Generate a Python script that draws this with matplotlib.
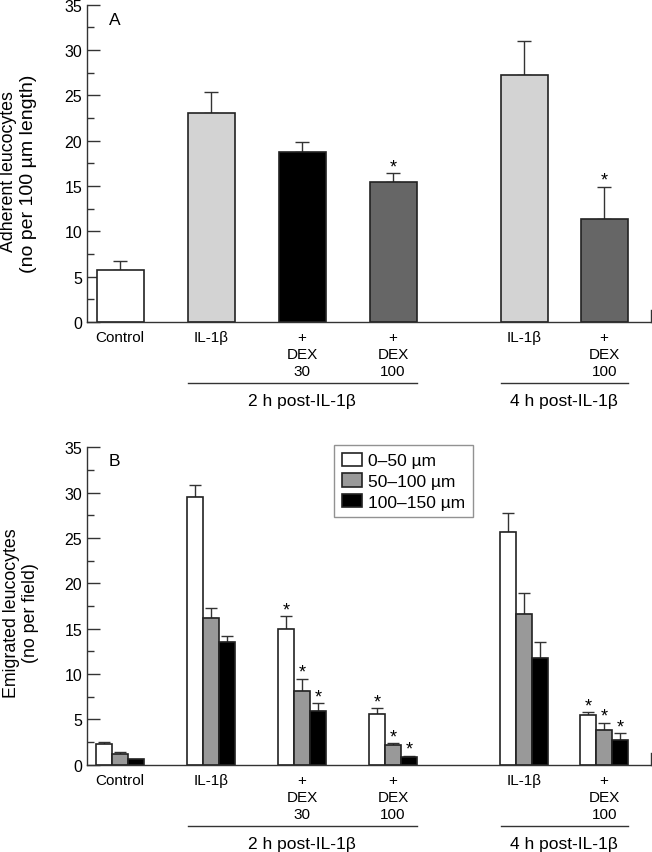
import matplotlib
matplotlib.use("Agg")
import matplotlib.pyplot as plt
import matplotlib.transforms as mtransforms
import numpy as np

plt.rcParams['font.family'] = ['Liberation Sans', 'DejaVu Sans']

# ---------------- data ----------------
tick_labels = ["Control", "IL-1β", "+\nDEX\n30", "+\nDEX\n100", "IL-1β", "+\nDEX\n100"]
group_labels = ["2 h post-IL-1β", "4 h post-IL-1β"]
group_members = [(1, 3), (4, 5)]

adherent = [5.75, 23.1, 18.8, 15.45, 27.3, 11.35]
adherent_err = [0.95, 2.3, 1.05, 0.95, 3.7, 3.55]
adherent_star = [False, False, False, True, False, True]
adherent_colors = ["#ffffff", "#d3d3d3", "#000000", "#666666", "#d3d3d3", "#666666"]

series_names = ["0–50 µm", "50–100 µm", "100–150 µm"]
series_colors = ["#ffffff", "#999999", "#000000"]
emig_0_50 = [2.28, 29.55, 15.0, 5.62, 25.62, 5.44]
emig_0_50_err = [0.25, 1.32, 1.36, 0.6, 2.16, 0.34]
emig_50_100 = [1.14, 16.14, 8.16, 2.14, 16.65, 3.79]
emig_50_100_err = [0.3, 1.16, 1.29, 0.22, 2.31, 0.84]
emig_100_150 = [0.59, 13.49, 5.95, 0.81, 11.76, 2.76]
emig_100_150_err = [0.0, 0.73, 0.82, 0.15, 1.77, 0.7]
emig_star = [False, False, True, True, False, True]

# ---------------- layout ----------------
slot_x = np.array([0, 1, 2, 3, 4.44, 5.32])
xlim = (-0.363, 5.835)
W, H = 652, 853
fig = plt.figure(figsize=(W / 100, H / 100), dpi=100)
axA = fig.add_axes([87 / W, 1 - 323 / H, 564 / W, 317.3 / H])
axB = fig.add_axes([87 / W, 1 - 765.7 / H, 564 / W, 317.4 / H])

EDGE = "#222222"
SP = "#333333"
TICKFS = 11.5
LABFS = 12.8


def style_axes(ax):
    ax.set_xlim(*xlim)
    ax.set_ylim(0, 35)
    for s in ["top", "right"]:
        ax.spines[s].set_visible(False)
    for s in ["left", "bottom"]:
        ax.spines[s].set_color(SP)
        ax.spines[s].set_linewidth(1.0)
    ax.set_yticks(np.arange(0, 36, 5))
    ax.set_yticks(np.arange(0, 36, 2.5), minor=True)
    ax.tick_params(axis='y', which='major', direction='in', length=9, width=1,
                   color=SP, labelsize=TICKFS, pad=3.5)
    ax.tick_params(axis='y', which='minor', direction='in', length=5, width=1, color=SP)
    ax.set_xticks(slot_x)
    ax.set_xticklabels(tick_labels, fontsize=11, linespacing=1.27, va='top')
    ax.tick_params(axis='x', length=0, pad=6)
    # small end tick at the right of the x axis
    ax.plot([1, 1], [0, 12 / 317.3], transform=ax.transAxes, clip_on=False,
            color=SP, lw=1)
    tr = mtransforms.blended_transform_factory(ax.transData, ax.transAxes)
    for (i0, i1), gl in zip(group_members, group_labels):
        x0 = slot_x[i0] - 0.258
        x1 = slot_x[i1] + 0.258
        ax.plot([x0, x1], [-0.192, -0.192], transform=tr, clip_on=False,
                color=SP, lw=1)
        ax.text((x0 + x1) / 2, -0.247, gl, transform=tr, ha='center',
                va='center', fontsize=12.5)


style_axes(axA)
style_axes(axB)
axA.text((109 - 87) / 564, 1 - (20 - 5.7) / 317.3, "A", transform=axA.transAxes,
         fontsize=12.5, ha='left', va='center')
axB.text((109 - 87) / 564, 1 - (461.7 - 448.3) / 317.4, "B", transform=axB.transAxes,
         fontsize=12.5, ha='left', va='center')

# ---- Panel A bars ----
wA = 0.516
axA.bar(slot_x, adherent, width=wA, color=adherent_colors, edgecolor=EDGE,
        linewidth=1.2, zorder=2)
axA.errorbar(slot_x, adherent, yerr=[np.zeros(len(adherent)), adherent_err],
             fmt='none', ecolor=SP, elinewidth=1, capsize=5, capthick=1, zorder=1)
for x, v, e, s in zip(slot_x, adherent, adherent_err, adherent_star):
    if s:
        axA.annotate("*", (x, v + e), xytext=(0, 1.5), textcoords='offset points',
                     ha='center', va='baseline', fontsize=13)

# ---- Panel B bars ----
wB = 0.178
series_vals = [emig_0_50, emig_50_100, emig_100_150]
series_errs = [emig_0_50_err, emig_50_100_err, emig_100_150_err]
for k, (vals, errs, col, name) in enumerate(zip(series_vals, series_errs,
                                                  series_colors, series_names)):
    xs = slot_x + (k - 1) * wB
    axB.bar(xs, vals, width=wB, color=col, edgecolor=EDGE, linewidth=1.2,
            zorder=2, label=name)
    errs_arr = np.array(errs)
    mask = errs_arr > 0
    axB.errorbar(xs[mask], np.array(vals)[mask],
                 yerr=[np.zeros(mask.sum()), errs_arr[mask]],
                 fmt='none', ecolor=SP, elinewidth=1, capsize=4.2, capthick=1, zorder=1)
    for x, v, e, s in zip(xs, vals, errs, emig_star):
        if s:
            axB.annotate("*", (x, v + e), xytext=(0, 1.5), textcoords='offset points',
                         ha='center', va='baseline', fontsize=13)

leg = axB.legend(loc='upper left', bbox_to_anchor=((334 - 87) / 564, 1.008),
                 borderaxespad=0, frameon=True, fancybox=False, fontsize=12.5,
                 handlelength=1.15, handleheight=0.8, handletextpad=0.35,
                 labelspacing=0.29, borderpad=0.45)
leg.get_frame().set_edgecolor("#777777")
leg.get_frame().set_linewidth(1.0)

# y labels
fig.text(9 / W, 1 - 172 / H, "Adherent leucocytes", rotation=90,
         ha='center', va='center', fontsize=LABFS)
fig.text(29 / W, 1 - 174 / H, "(no per 100 µm length)", rotation=90,
         ha='center', va='center', fontsize=14)
fig.text(21 / W, 1 - 613 / H, "Emigrated leucocytes\n(no per field)",
         rotation=90, ha='center', va='center', fontsize=LABFS, linespacing=1.15)

fig.savefig("out.png", dpi=100)
